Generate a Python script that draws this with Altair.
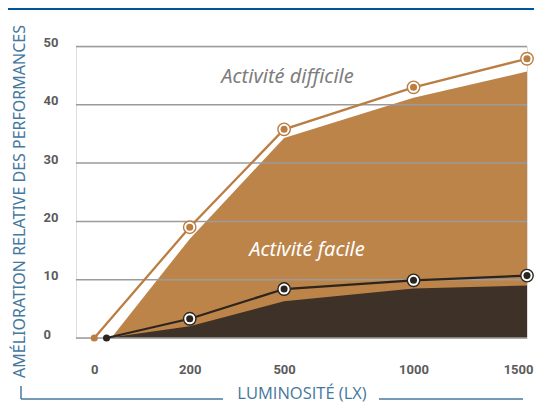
import altair as alt
import pandas as pd

# ---- data ----
lux_ticks = [0, 200, 500, 1000, 1500]
y_ticks = [0, 10, 20, 30, 40, 50]

difficile_lux = [0, 200, 500, 1000, 1500]
difficile_val = [0, 19.0, 35.8, 43.0, 47.9]

facile_lux = [13, 200, 500, 1000, 1500]
facile_val = [0, 3.3, 8.4, 9.9, 10.7]

zone_difficile_lux = [20, 200, 500, 1000, 1500]
zone_difficile_val = [0, 17.0, 34.3, 41.2, 45.7]

zone_facile_lux = [13, 200, 500, 1000, 1500]
zone_facile_val = [0, 2.0, 6.3, 8.5, 9.0]

label_text = ["Activité difficile", "Activité facile"]
label_lux = [512, 582]
label_val = [43.7, 14.1]
label_color = ["#7d7d7d", "#ffffff"]

# ---- tables ----
df_diff = pd.DataFrame({"lux": difficile_lux, "val": difficile_val})
df_fac = pd.DataFrame({"lux": facile_lux, "val": facile_val})
df_zdiff = pd.DataFrame({"lux": zone_difficile_lux, "val": zone_difficile_val})
df_zfac = pd.DataFrame({"lux": zone_facile_lux, "val": zone_facile_val})
df_lab = pd.DataFrame({"lux": label_lux, "val": label_val, "txt": label_text, "col": label_color})
df_grid = pd.DataFrame({"val": y_ticks})

W, H = 451, 291.5
BLUE = "#44789f"
LIGHT = "#bc8449"
ORANGE = "#bb7d42"
DARK_AREA = "#3e3128"
DARK_LINE = "#2b2520"

xs = alt.Scale(type="pow", exponent=0.75, domain=[-22, 1500], nice=False, zero=False)
ys = alt.Scale(domain=[0, 50], nice=False, zero=True)

x_axis = alt.Axis(
    values=lux_ticks, format="d", title="LUMINOSITÉ (LX)", domain=False, ticks=False, grid=False,
    labelFont="Roboto", labelFontWeight="bold", labelFontSize=13, labelColor="#5b5b5b",
    labelPadding=35, labelBaseline="alphabetic", labelFlush=1, labelFlushOffset=6,
    labelOverlap=False,
    titleFont="Open Sans", titleFontSize=16.5, titleFontWeight="normal", titleColor=BLUE,
    titleY=60, titleBaseline="alphabetic",
)
y_axis = alt.Axis(
    values=y_ticks, format="d", title="AMÉLIORATION RELATIVE DES PERFORMANCES", domain=False,
    ticks=False, grid=False, labelAlign="left", labelBaseline="alphabetic", labelPadding=33,
    labelFont="Roboto", labelFontWeight="bold", labelFontSize=13, labelColor="#5b5b5b",
    labelFlush=False, labelOverlap=False,
    titleFont="Noto Sans", titleFontSize=16, titleFontWeight="normal", titleColor=BLUE,
    titleX=-57, titleY=154.5, titleAngle=270, titleAlign="center", titleBaseline="middle",
)

X = alt.X("lux:Q", scale=xs, axis=x_axis)
Y = alt.Y("val:Q", scale=ys, axis=y_axis)

zone_d = alt.Chart(df_zdiff).mark_area(color=LIGHT, opacity=1).encode(x=X, y=Y)
zone_f = alt.Chart(df_zfac).mark_area(color=DARK_AREA, opacity=1).encode(x=X, y=Y)

grid = alt.Chart(df_grid).mark_rule(color="#9b9b9b", strokeWidth=1.5).encode(
    y=alt.Y("val:Q", scale=ys, axis=y_axis), x=alt.value(0), x2=alt.value(W)
)

line_d = alt.Chart(df_diff).mark_line(color=ORANGE, strokeWidth=2.3).encode(x=X, y=Y)
line_f = alt.Chart(df_fac).mark_line(color=DARK_LINE, strokeWidth=2.3).encode(x=X, y=Y)

ring_d = alt.Chart(df_diff).transform_filter("datum.lux >= 100").mark_point(
    shape="circle", size=154, filled=False, fill="white", fillOpacity=1, stroke=ORANGE,
    strokeWidth=1.4, opacity=1
).encode(x=X, y=Y)
ring_f = alt.Chart(df_fac).transform_filter("datum.lux >= 100").mark_point(
    shape="circle", size=154, filled=False, fill="white", fillOpacity=1, stroke=DARK_LINE,
    strokeWidth=1.4, opacity=1
).encode(x=X, y=Y)

dot_d = alt.Chart(df_diff).mark_circle(size=50, color=ORANGE, opacity=1).encode(x=X, y=Y)
dot_f = alt.Chart(df_fac).mark_circle(size=50, color=DARK_LINE, opacity=1).encode(x=X, y=Y)

labels = alt.Chart(df_lab).mark_text(
    font="Noto Sans", fontSize=20, fontStyle="italic", align="center", baseline="alphabetic"
).encode(x=X, y=Y, text="txt:N", color=alt.Color("col:N", scale=None))

one = alt.Data(values=[{"k": 1}])
band = alt.Chart(one).mark_rect(color="#005696").encode(
    x=alt.value(-68), x2=alt.value(458), y=alt.value(-38.5), y2=alt.value(-36.5)
)
vline = alt.Chart(one).mark_rule(color=BLUE, strokeWidth=1.5).encode(
    x=alt.value(-55), y=alt.value(339.5), y2=alt.value(352.5)
)
hline_l = alt.Chart(one).mark_rule(color=BLUE, strokeWidth=1.5).encode(
    x=alt.value(-55), x2=alt.value(147), y=alt.value(352.5)
)
hline_r = alt.Chart(one).mark_rule(color=BLUE, strokeWidth=1.5).encode(
    x=alt.value(303), x2=alt.value(447), y=alt.value(352.5)
)

chart = alt.layer(
    zone_d, zone_f, grid, line_d, line_f, ring_d, ring_f, dot_d, dot_f, labels,
    band, vline, hline_l, hline_r
).properties(
    width=W, height=H, autosize="none",
    padding={"left": 68, "top": 38.5, "right": 7, "bottom": 65},
).configure_view(stroke=None).configure(background="white")

chart.save("out.html", embed_options={"renderer": "svg", "actions": False})
